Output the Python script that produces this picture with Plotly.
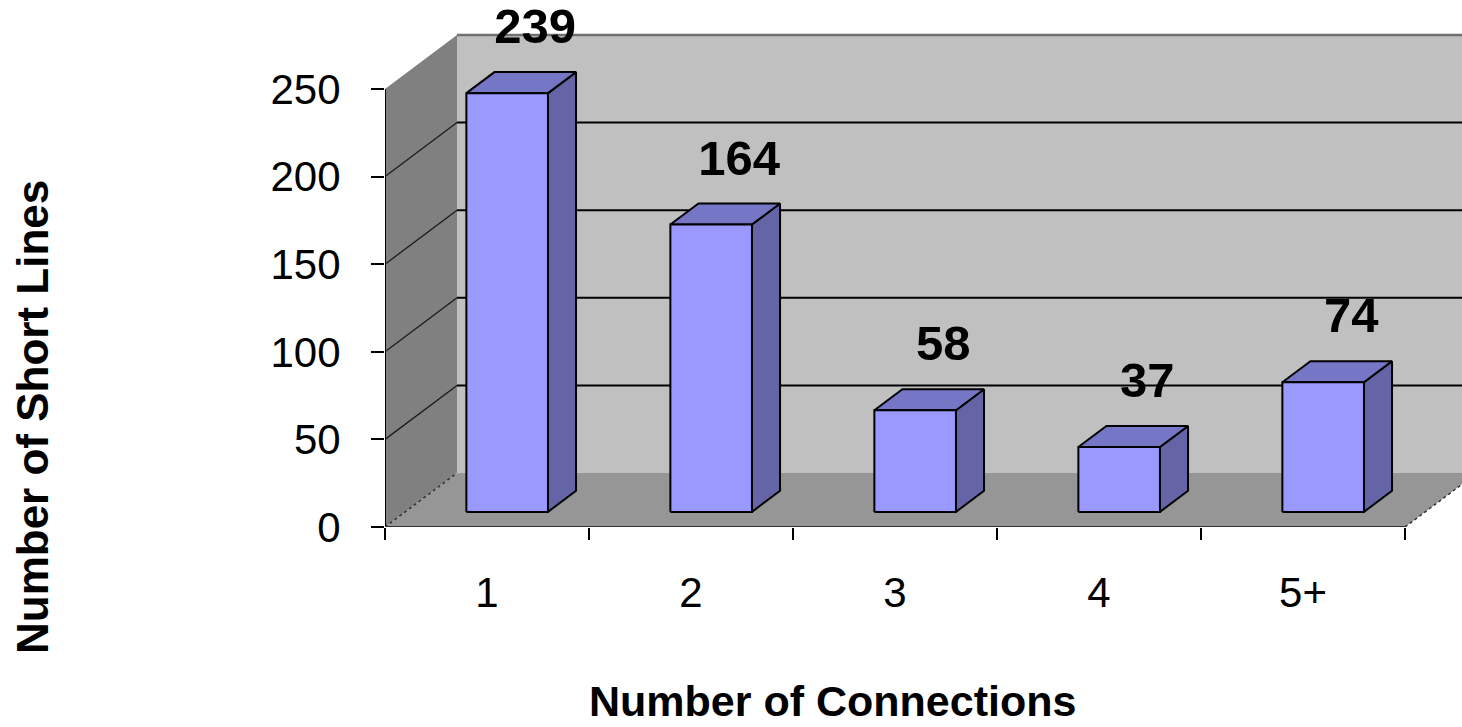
import plotly.graph_objects as go

# ---- data ----
categories = ["1", "2", "3", "4", "5+"]
values = [239, 164, 58, 37, 74]
y_ticks = [0, 50, 100, 150, 200, 250]

# ---- geometry / style constants (pseudo-3D projection) ----
PX_X = 204.0          # pixels per category (front plane)
PX_Y = 1.752          # pixels per value unit
X_MAX = 1077 / PX_X
Y_MAX = 527 / PX_Y
DX = 72 / PX_X        # depth offset of the back wall in x units
DY = 54 / PX_Y        # depth offset of the back wall in value units
D0, D1 = 0.28, 0.67   # bar depth start / end (fraction of depth)
BW0, BW1 = 0.30, 0.70 # bar extent within the category
LABEL_OFF = 41 / PX_Y

FONT = "Liberation Sans, Arial, sans-serif"
n = len(categories)
ytop = y_ticks[-1]

fig = go.Figure()


def poly(xs, ys, fill, line_color=None, width=0.0):
    fig.add_trace(go.Scatter(
        x=xs, y=ys, mode="lines", fill="toself", fillcolor=fill,
        line=dict(color=line_color or fill, width=width),
        hoverinfo="skip", showlegend=False))


def seg(xs, ys, color, width, dash="solid"):
    fig.add_trace(go.Scatter(
        x=xs, y=ys, mode="lines", line=dict(color=color, width=width, dash=dash),
        hoverinfo="skip", showlegend=False))


# walls and floor
poly([0, 0, DX, DX, 0], [0, ytop, ytop + DY, DY, 0], "#808080")
poly([DX, n + DX, n + DX, DX, DX], [DY, DY, ytop + DY, ytop + DY, DY], "#c0c0c0")
poly([0, n, n + DX, DX, 0], [0, 0, DY, DY, 0], "#969696")

# gridlines
gx, gy, lx, ly = [], [], [], []
for t in y_ticks[1:-1]:
    gx += [DX, n + DX, None]
    gy += [t + DY, t + DY, None]
    lx += [0, DX, None]
    ly += [t, t + DY, None]
seg(gx, gy, "#000000", 2)
seg(lx, ly, "#1a1a1a", 1.3)
seg([DX, n + DX], [ytop + DY, ytop + DY], "#707070", 2.5)

# floor side edges
seg([0, DX, None, n, n + DX], [0, DY, None, 0, DY], "#333333", 1.5, "dot")

# axis lines
seg([0, 0], [0, ytop], "#000000", 2)
seg([0, n], [0, 0], "#333333", 2)

# bars
fx, fy, tx, ty, sx, sy = [], [], [], [], [], []
for i, v in enumerate(values):
    xl0 = i + BW0 + D0 * DX
    xr0 = i + BW1 + D0 * DX
    xl1 = i + BW0 + D1 * DX
    xr1 = i + BW1 + D1 * DX
    yb0 = D0 * DY
    yb1 = D1 * DY
    fx += [xl0, xr0, xr0, xl0, xl0, None]
    fy += [yb0, yb0, v + yb0, v + yb0, yb0, None]
    tx += [xl0, xr0, xr1, xl1, xl0, None]
    ty += [v + yb0, v + yb0, v + yb1, v + yb1, v + yb0, None]
    sx += [xr0, xr1, xr1, xr0, xr0, None]
    sy += [yb0, yb1, v + yb1, v + yb0, yb0, None]

poly(sx, sy, "#6464a6", "#000000", 2)
poly(tx, ty, "#7676c6", "#000000", 2)
poly(fx, fy, "#9999ff", "#000000", 2)

# value labels
fig.add_trace(go.Scatter(
    x=[i + 0.5 + D1 * DX for i in range(n)],
    y=[v + D1 * DY + LABEL_OFF for v in values],
    xaxis="x2", mode="text", text=[str(v) for v in values],
    textposition="middle center",
    textfont=dict(family=FONT, size=49, color="#000000", weight="bold"),
    cliponaxis=False, hoverinfo="skip", showlegend=False))

fig.update_layout(
    width=1462, height=727,
    margin=dict(l=385, r=0, t=0, b=200),
    paper_bgcolor="white", plot_bgcolor="white",
    showlegend=False,
    font=dict(family=FONT, color="#000000"),
    xaxis=dict(range=[0, X_MAX], tickvals=list(range(n + 1)),
               ticktext=[""] * (n + 1), ticks="outside", ticklen=12,
               tickwidth=2, tickcolor="#000000", showgrid=False,
               zeroline=False, showline=False, fixedrange=True),
    xaxis2=dict(range=[0, X_MAX], overlaying="x", anchor="y", side="bottom",
                tickvals=[i + 0.5 for i in range(n)], ticktext=categories,
                ticks="", showgrid=False, zeroline=False, showline=False,
                tickfont=dict(family=FONT, size=42, color="#000000"),
                ticklabelstandoff=37, fixedrange=True),
    yaxis=dict(range=[0, Y_MAX], tickvals=y_ticks,
               ticktext=[str(t) for t in y_ticks],
               ticks="outside", ticklen=13, tickwidth=2, tickcolor="#000000",
               showgrid=False, zeroline=False, showline=False,
               tickfont=dict(family=FONT, size=42, color="#000000"),
               ticklabelstandoff=22, fixedrange=True),
    annotations=[
        dict(text="<b>Number of Connections</b>", xref="paper", yref="paper",
             x=(832 - 385) / 1077, y=(527 - 727) / 527, xanchor="center",
             yanchor="bottom", showarrow=False,
             font=dict(family=FONT, size=43, color="#000000")),
        dict(text="<b>Number of Short Lines</b>", xref="paper", yref="paper",
             x=(32 - 385) / 1077, y=(527 - 417) / 527, xanchor="center",
             yanchor="middle", textangle=-90, showarrow=False,
             font=dict(family=FONT, size=44, color="#000000")),
    ],
)

fig.write_html("out.html")
